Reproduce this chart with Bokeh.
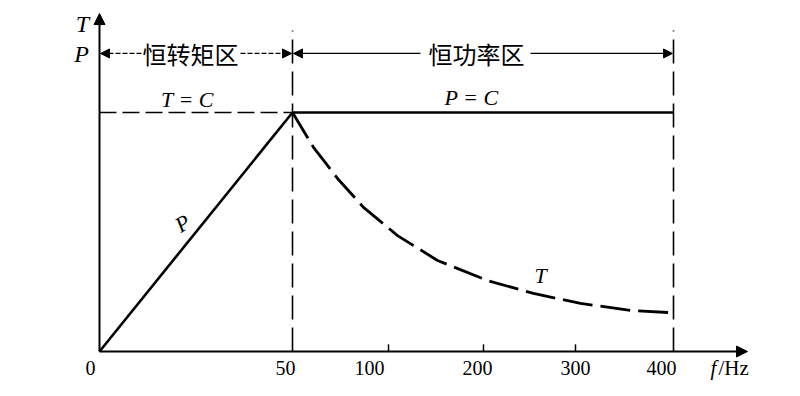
from bokeh.plotting import figure
from bokeh.models import Arrow, NormalHead, FixedTicker, Range1d, LinearAxis
from bokeh.core.properties import value
from bokeh.embed import file_html
from bokeh.resources import INLINE

# ---- data (schematic: x in axis-position units, y normalised so constant level = 1) ----
freq_labels = ["0", "50", "100", "200", "300", "400"]
freq_label_pos = [-9, 186, 270, 378, 476, 562]
tick_mark_pos = [289, 384, 476]          # small tick marks at 100, 200, 300 Hz
base_pos = 193                            # 50 Hz (base frequency)
max_pos = 574                             # 400 Hz
axis_x_end = 648
axis_y_end = 1.414
guide_top = 1.343
dim_y = 1.247

P_x = [0, 193]
P_y = [0.0, 1.0]
Pc_x = [193, 574]
Pc_y = [1.0, 1.0]
Tc_x = [0, 193]
Tc_y = [1.0, 1.0]
T_x = [193, 214, 238, 264, 298, 338, 388, 434, 481, 531, 574]
T_y = [1.0, 0.854, 0.724, 0.603, 0.485, 0.381, 0.297, 0.243, 0.201, 0.172, 0.162]

SERIF = "Liberation Serif"
CJK = "Noto Sans CJK SC"

p = figure(width=784, height=380, output_backend="svg", toolbar_location=None,
           x_range=Range1d(-99, 685), y_range=Range1d(-0.1213, 1.4686),
           x_axis_location=None, y_axis_location=None,
           min_border_left=0, min_border_right=0, min_border_top=0, min_border_bottom=0)
p.outline_line_color = None
p.grid.visible = False
p.background_fill_color = "white"

ax = LinearAxis(fixed_location=0)
ax.ticker = FixedTicker(ticks=freq_label_pos)
ax.major_label_overrides = {k: v for k, v in zip(freq_label_pos, freq_labels)}
ax.axis_line_color = None
ax.major_tick_line_color = None
ax.minor_tick_line_color = None
ax.major_label_text_font = SERIF
ax.major_label_text_font_size = "20px"
ax.major_label_text_color = "black"
ax.major_label_standoff = 3
p.add_layout(ax, "below")

# axes with arrow heads
p.add_layout(Arrow(end=NormalHead(size=11, fill_color="black", line_color="black"),
                   x_start=0, y_start=0, x_end=0, y_end=axis_y_end,
                   line_width=2, line_color="black"))
p.add_layout(Arrow(end=NormalHead(size=11, fill_color="black", line_color="black"),
                   x_start=0, y_start=0, x_end=axis_x_end, y_end=0,
                   line_width=2, line_color="black"))

# small tick marks
p.segment(x0=tick_mark_pos, y0=[0] * 3, x1=tick_mark_pos, y1=[0.03] * 3,
          line_color="black", line_width=1.5)

# vertical dashed guides
p.segment(x0=[base_pos, max_pos], y0=[0, 0], x1=[base_pos, max_pos], y1=[guide_top] * 2,
          line_color="black", line_width=1.6, line_dash="24 8")

# curves
p.line(Tc_x, Tc_y, line_color="black", line_width=1.6, line_dash="17 6")
p.line(Pc_x, Pc_y, line_color="black", line_width=2.6)
p.line(P_x, P_y, line_color="black", line_width=2.6)
p.line(T_x, T_y, line_color="black", line_width=2.8, line_dash="30 8")

# dimension arrows
def dim(x0, x1, dash):
    p.add_layout(Arrow(end=NormalHead(size=9, fill_color="black", line_color="black"),
                       x_start=x0, y_start=dim_y, x_end=x1, y_end=dim_y,
                       line_width=1.3, line_color="black", line_dash=dash))

dim(42, 1, "5 2")
dim(141, 192, "5 2")
dim(321, 194, "solid")
dim(431, 573, "solid")

# texts
def txt(x, y, s, font, size, style="normal", angle=0.0, align="center"):
    p.text(x=[x], y=[y], text=[s], text_font=value(font), text_font_size=size,
           text_font_style=style, text_align=align, text_baseline="middle",
           text_color="black", angle=angle)

txt(91, dim_y, "恒转矩区", CJK, "24px")
txt(377, dim_y, "恒功率区", CJK, "24px")
txt(-17, 1.372, "T", SERIF, "24px", "italic")
txt(-18, 1.243, "P", SERIF, "24px", "italic")
txt(88, 1.054, "T = C", SERIF, "22px", "italic")
txt(372, 1.063, "P = C", SERIF, "22px", "italic")
txt(83, 0.536, "P", SERIF, "22px", "italic", angle=0.55)
txt(441, 0.318, "T", SERIF, "22px", "italic")
txt(614, -0.067, "f", SERIF, "21px", "italic")
txt(619, -0.067, "/Hz", SERIF, "21px", align="left")

open("out.html", "w").write(file_html(p, INLINE))
